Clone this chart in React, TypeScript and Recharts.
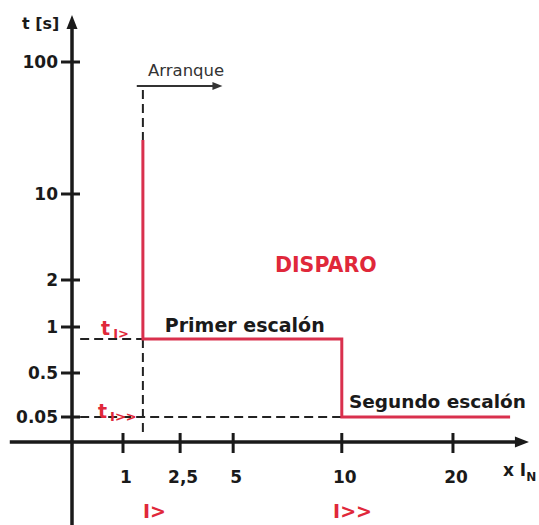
import React from 'react';
import { LineChart, Line, XAxis, YAxis, ReferenceLine, ReferenceDot } from 'recharts';

// positions are drawing units: x = current multiple slot, y = time slot (not linear in value)
const X_TICKS = [1, 2.12, 3.16, 5.29, 7.47];
const X_TICK_LABELS = ['1', '2,5', '5', '10', '20'];
const Y_TICKS = [2.5, 6.9, 11.5, 16.2, 24.8, 38];
const Y_TICK_LABELS = ['0.05', '0.5', '1', '2', '10', '100'];

// two-step tripping characteristic
const TRIP_X = [1.39, 1.39, 5.29, 5.29, 8.59];
const TRIP_Y = [30.2, 10.3, 10.3, 2.5, 2.5];

const I1 = 1.39; // I>
const I2 = 5.29; // I>>
const T1 = 10.3; // t I>
const T2 = 2.5; // t I>>
const START_TOP = 35.2; // top of the "Arranque" dashed line

const data = TRIP_X.map((x, i) => ({ x, y: TRIP_Y[i] }));

const RED = '#d9304d';
const TEXT_RED = '#e0283a';
const INK = '#1a1a1a';
const FONT = '"DejaVu Sans", Verdana, sans-serif';

const XTick = ({ x, y, payload }: any) => (
  <g>
    <line x1={x} x2={x} y1={y - 9} y2={y + 11} stroke={INK} strokeWidth={3} />
    <text x={x + 3} y={y + 41} textAnchor="middle" fontFamily={FONT} fontWeight="bold" fontSize={17} fill={INK}>
      {X_TICK_LABELS[X_TICKS.indexOf(payload.value)]}
    </text>
  </g>
);

const YTick = ({ x, y, payload }: any) => (
  <g>
    <line x1={x - 11} x2={x + 8} y1={y} y2={y} stroke={INK} strokeWidth={3} />
    <text x={x - 14} y={y + 6} textAnchor="end" fontFamily={FONT} fontWeight="bold" fontSize={17} fill={INK}>
      {Y_TICK_LABELS[Y_TICKS.indexOf(payload.value)]}
    </text>
  </g>
);

const label = (content: React.ReactNode, size: number, fill: string, weight = 'bold') => (p: any) => (
  <text x={p.cx} y={p.cy} fontFamily={FONT} fontWeight={weight} fontSize={size} fill={fill}>
    {content}
  </text>
);

const arrowRight = (len: number, half: number, fill: string) => (p: any) => (
  <polygon points={`${p.cx},${p.cy} ${p.cx - len},${p.cy - half} ${p.cx - len},${p.cy + half}`} fill={fill} />
);

const arrowUp = (len: number, half: number, fill: string) => (p: any) => (
  <polygon points={`${p.cx},${p.cy} ${p.cx - half},${p.cy + len} ${p.cx + half},${p.cy + len}`} fill={fill} />
);

const dash = { stroke: '#222', strokeWidth: 2, strokeDasharray: '9 5' };

export default function App() {
  return (
    <div style={{ position: 'absolute', left: 0, top: 0, background: '#fff' }}>
      <LineChart width={539} height={525} data={data} margin={{ top: 12, right: 8, left: 10, bottom: 43 }}>
        <XAxis
          dataKey="x"
          type="number"
          domain={[0, 9]}
          ticks={X_TICKS}
          interval={0}
          axisLine={false}
          tickLine={false}
          tickSize={0}
          tickMargin={0}
          height={40}
          tick={<XTick />}
        />
        <YAxis
          type="number"
          domain={[0, 43]}
          ticks={Y_TICKS}
          interval={0}
          axisLine={false}
          tickLine={false}
          tickSize={0}
          tickMargin={0}
          width={62}
          tick={<YTick />}
        />

        {/* axes with arrows */}
        <ReferenceLine segment={[{ x: -1.22, y: 0 }, { x: 8.75, y: 0 }]} stroke={INK} strokeWidth={3.5} ifOverflow="visible" />
        <ReferenceLine segment={[{ x: 0, y: -8.4 }, { x: 0, y: 41.5 }]} stroke={INK} strokeWidth={3.5} ifOverflow="visible" />
        <ReferenceDot x={8.96} y={0} r={0} ifOverflow="visible" shape={arrowRight(14, 5.5, INK)} />
        <ReferenceDot x={0} y={42.7} r={0} ifOverflow="visible" shape={arrowUp(14, 5.5, INK)} />

        {/* dashed guides */}
        <ReferenceLine segment={[{ x: I1, y: START_TOP }, { x: I1, y: 30.2 }]} {...dash} ifOverflow="visible" />
        <ReferenceLine segment={[{ x: I1, y: T1 }, { x: I1, y: 1 }]} {...dash} ifOverflow="visible" />
        <ReferenceLine segment={[{ x: 0.16, y: T1 }, { x: I1, y: T1 }]} {...dash} ifOverflow="visible" />
        <ReferenceLine segment={[{ x: 0.16, y: T2 }, { x: I2, y: T2 }]} {...dash} ifOverflow="visible" />

        {/* Arranque arrow */}
        <ReferenceLine segment={[{ x: 1.27, y: 35.6 }, { x: 2.78, y: 35.6 }]} stroke="#333" strokeWidth={2} ifOverflow="visible" />
        <ReferenceDot x={2.95} y={35.6} r={0} ifOverflow="visible" shape={arrowRight(10, 4, '#333')} />

        <Line
          type="linear"
          dataKey="y"
          stroke={RED}
          strokeWidth={3}
          dot={false}
          activeDot={false}
          isAnimationActive={false}
        />

        {/* texts */}
        <ReferenceDot x={-0.98} y={41.3} r={0} ifOverflow="visible" shape={label('t [s]', 16, INK)} />
        <ReferenceDot x={1.49} y={36.6} r={0} ifOverflow="visible" shape={label('Arranque', 16.5, '#333', 'normal')} />
        <ReferenceDot x={3.98} y={17} r={0} ifOverflow="visible" shape={label('DISPARO', 20.5, TEXT_RED)} />
        <ReferenceDot x={1.82} y={11} r={0} ifOverflow="visible" shape={label('Primer escalón', 19, INK)} />
        <ReferenceDot x={5.43} y={3.4} r={0} ifOverflow="visible" shape={label('Segundo escalón', 18.5, INK)} />
        <ReferenceDot
          x={0.57}
          y={10.7}
          r={0}
          ifOverflow="visible"
          shape={label(<>t<tspan fontSize={13} dx={3} dy={3}>I&gt;</tspan></>, 19, TEXT_RED)}
        />
        <ReferenceDot
          x={0.51}
          y={2.4}
          r={0}
          ifOverflow="visible"
          shape={label(<>t<tspan fontSize={13} dx={3} dy={3}>I&gt;&gt;</tspan></>, 19, TEXT_RED)}
        />
        <ReferenceDot x={1.39} y={-7.6} r={0} ifOverflow="visible" shape={label('I>', 19, TEXT_RED)} />
        <ReferenceDot x={5.12} y={-7.6} r={0} ifOverflow="visible" shape={label('I>>', 19, TEXT_RED)} />
        <ReferenceDot
          x={8.45}
          y={-3.4}
          r={0}
          ifOverflow="visible"
          shape={label(<>x I<tspan fontSize={12} dy={5}>N</tspan></>, 17, INK)}
        />
      </LineChart>
    </div>
  );
}
